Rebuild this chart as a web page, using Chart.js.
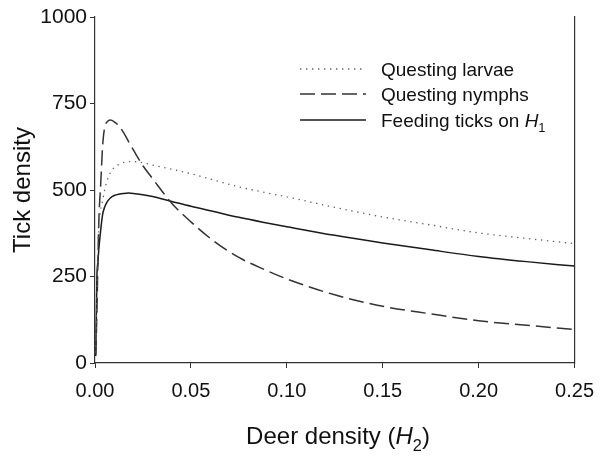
<!DOCTYPE html>
<html>
<head>
<meta charset="utf-8">
<script src="https://cdn.jsdelivr.net/npm/chart.js@4.4.1/dist/chart.umd.min.js"></script>
<style>
  body { margin: 0; background: #fff; }
  canvas { display: block; }
</style>
</head>
<body>
<canvas id="myChart" width="605" height="459"></canvas>
<script>
// values
const deerDensity = [0.0004, 0.001, 0.0015, 0.002, 0.003, 0.004, 0.005, 0.0065, 0.008, 0.01, 0.0125, 0.015, 0.0175, 0.02, 0.025, 0.03, 0.04, 0.05, 0.0625, 0.075, 0.0875, 0.1, 0.125, 0.15, 0.175, 0.2, 0.225, 0.25];
const questingLarvae = [30, 200, 330, 395, 445, 470, 500, 530, 550, 565, 574, 580, 582, 582, 579, 572, 560, 547, 528, 509, 494, 480, 450, 422, 399, 376, 360, 345];
const questingNymphs = [25, 150, 290, 410, 520, 630, 680, 698, 702, 697, 685, 665, 640, 616, 570, 533, 462, 408, 350, 305, 272, 243, 197, 164, 142, 122, 109, 97];
const feedingTicks = [20, 250, 290, 330, 385, 430, 450, 467, 477, 484, 488, 490, 491, 490, 486, 481, 467, 453, 437, 421, 407, 394, 369, 347, 327, 308, 293, 280];
const xTicks = [0, 0.05, 0.10, 0.15, 0.20, 0.25];
const yTicks = [0, 250, 500, 750, 1000];

const FONT = '"Liberation Sans", Arial, sans-serif';
const toPoints = (vals) => vals.map((v, i) => ({ x: deerDensity[i], y: v }));

// draws text pieces like "H" italic and subscripts
function richWidth(ctx, parts, size) {
  let w = 0;
  parts.forEach(p => {
    const s = p.sub ? size * 0.68 : size;
    ctx.font = (p.italic ? 'italic ' : '') + s + 'px ' + FONT;
    w += ctx.measureText(p.t).width;
  });
  return w;
}
function drawRich(ctx, parts, x, y, size) {
  parts.forEach(p => {
    const s = p.sub ? size * 0.68 : size;
    ctx.font = (p.italic ? 'italic ' : '') + s + 'px ' + FONT;
    ctx.fillText(p.t, x, p.sub ? y + size * 0.28 : y);
    x += ctx.measureText(p.t).width;
  });
}

const extras = {
  id: 'extras',
  afterDraw(chart) {
    const ctx = chart.ctx;
    ctx.save();
    ctx.fillStyle = '#111';
    ctx.textBaseline = 'alphabetic';
    ctx.textAlign = 'left';

    // x axis title
    const xt = [{ t: 'Deer density (' }, { t: 'H', italic: true }, { t: '2', sub: true }, { t: ')' }];
    const w = richWidth(ctx, xt, 24);
    drawRich(ctx, xt, 338 - w / 2, 444, 24);

    // legend
    const labels = [
      [{ t: 'Questing larvae' }],
      [{ t: 'Questing nymphs' }],
      [{ t: 'Feeding ticks on ' }, { t: 'H', italic: true }, { t: '1', sub: true }]
    ];
    const rows = [69, 94, 120];
    chart.data.datasets.forEach((ds, i) => {
      ctx.save();
      ctx.strokeStyle = ds.borderColor;
      ctx.lineWidth = ds.borderWidth;
      ctx.setLineDash(ds.borderDash || []);
      ctx.beginPath();
      ctx.moveTo(300, rows[i]);
      ctx.lineTo(366, rows[i]);
      ctx.stroke();
      ctx.restore();
      drawRich(ctx, labels[i], 381, rows[i] + 7, 19);
    });
    ctx.restore();
  }
};

const ctx = document.getElementById('myChart').getContext('2d');
new Chart(ctx, {
  type: 'line',
  data: {
    datasets: [
      {
        label: 'Questing larvae',
        data: toPoints(questingLarvae),
        borderColor: '#666',
        borderWidth: 1.3,
        borderDash: [1.4, 4.6],
        pointRadius: 0,
        cubicInterpolationMode: 'monotone'
      },
      {
        label: 'Questing nymphs',
        data: toPoints(questingNymphs),
        borderColor: '#333',
        borderWidth: 1.5,
        borderDash: [15, 6],
        pointRadius: 0,
        cubicInterpolationMode: 'monotone'
      },
      {
        label: 'Feeding ticks on H1',
        data: toPoints(feedingTicks),
        borderColor: '#1a1a1a',
        borderWidth: 1.5,
        pointRadius: 0,
        cubicInterpolationMode: 'monotone'
      }
    ]
  },
  options: {
    responsive: false,
    animation: false,
    layout: { padding: { top: 17, right: 29, left: 0, bottom: 0 } },
    plugins: { legend: { display: false }, tooltip: { enabled: false } },
    scales: {
      x: {
        type: 'linear',
        min: 0,
        max: 0.25,
        afterBuildTicks: s => { s.ticks = xTicks.map(v => ({ value: v })); },
        afterFit: s => { s.height = 96; },
        ticks: {
          color: '#111',
          font: { family: FONT, size: 20 },
          padding: 11,
          maxRotation: 0,
          callback: v => v.toFixed(2)
        },
        grid: { drawOnChartArea: false, drawTicks: true, tickLength: 5, color: '#333' },
        border: { color: '#333', width: 1.2 }
      },
      y: {
        min: 0,
        max: 1000,
        afterBuildTicks: s => { s.ticks = yTicks.map(v => ({ value: v })); },
        afterFit: s => { s.width = 95; },
        ticks: {
          color: '#111',
          font: { family: FONT, size: 21 },
          padding: 3,
          callback: v => String(v)
        },
        grid: { drawOnChartArea: false, drawTicks: true, tickLength: 5, color: '#333' },
        border: { color: '#333', width: 1.2 },
        title: {
          display: true,
          text: 'Tick density',
          color: '#111',
          font: { family: FONT, size: 24 },
          padding: { top: 9, bottom: 0 }
        }
      },
      yRight: {
        position: 'right',
        min: 0,
        max: 1000,
        afterFit: s => { s.width = 0; },
        ticks: { display: false },
        grid: { drawOnChartArea: false, drawTicks: false },
        border: { color: '#333', width: 1.2 }
      }
    }
  },
  plugins: [extras]
});
</script>
</body>
</html>
